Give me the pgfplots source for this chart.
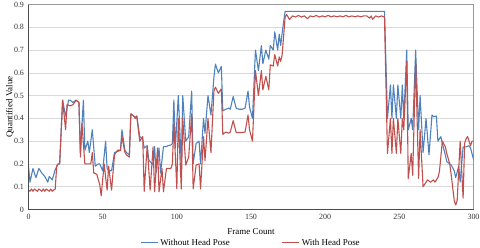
\documentclass[border=0pt]{standalone}
\usepackage{pgfplots}
\pgfplotsset{compat=1.18}
\usepackage{fontspec}
\setmainfont{Liberation Serif}
\definecolor{cblue}{RGB}{79,129,189}
\definecolor{cred}{RGB}{192,80,77}
\pgfplotstableread{
x y
0 0.19
1 0.12
3 0.18
5 0.14
7 0.18
9 0.16
11 0.145
13 0.12
14 0.145
16 0.13
18 0.175
20 0.2
21 0.2
23 0.48
25 0.41
27 0.48
28 0.48
30 0.47
31 0.475
32 0.48
34 0.47
35 0.25
37 0.48
38 0.26
40 0.30
41 0.25
43 0.35
45 0.19
47 0.2
48 0.2
50 0.17
52 0.30
53 0.18
54 0.17
56 0.17
58 0.25
60 0.255
62 0.26
63 0.35
65 0.26
66 0.25
68 0.24
69 0.42
71 0.41
72 0.405
73 0.41
75 0.32
77 0.31
78 0.27
80 0.28
81 0.22
82 0.21
84 0.195
85 0.276
86 0.16
88 0.27
89 0.16
91 0.276
93 0.276
94 0.28
96 0.283
97 0.29
98 0.48
99 0.27
101 0.50
103 0.20
104 0.50
106 0.30
108 0.32
110 0.52
111 0.20
113 0.29
115 0.30
116 0.20
118 0.40
119 0.335
121 0.50
123 0.415
125 0.58
126 0.638
128 0.60
130 0.628
131 0.433
133 0.44
135 0.445
136 0.44
138 0.496
140 0.445
142 0.44
144 0.44
146 0.445
148 0.52
149 0.45
151 0.40
153 0.70
155 0.61
157 0.72
158 0.64
160 0.70
162 0.66
163 0.72
165 0.70
166 0.78
168 0.70
169 0.77
170 0.72
171 0.775
173 0.87
240 0.87
242 0.40
244 0.547
245 0.40
246 0.547
248 0.40
249 0.547
251 0.40
252 0.547
253 0.40
255 0.70
256 0.35
258 0.40
259 0.35
261 0.70
263 0.35
264 0.50
266 0.25
268 0.40
270 0.24
272 0.415
273 0.408
275 0.41
276 0.30
278 0.32
279 0.29
281 0.24
282 0.21
284 0.20
285 0.195
287 0.17
288 0.14
290 0.19
291 0.12
293 0.275
295 0.275
297 0.28
298 0.27
300 0.22
}\blueA
\pgfplotstableread{
x y
0 0.085
1 0.08
2 0.09
3 0.08
4 0.09
5 0.085
6 0.08
7 0.09
8 0.085
9 0.08
10 0.09
11 0.08
12 0.09
13 0.085
14 0.08
15 0.09
16 0.08
17 0.085
18 0.09
19 0.19
20 0.2
21 0.2
23 0.48
25 0.35
26 0.46
28 0.455
30 0.46
32 0.48
33 0.475
34 0.47
35 0.23
36 0.38
38 0.2
40 0.2
42 0.2
43 0.25
44 0.16
46 0.155
48 0.11
49 0.06
51 0.2
53 0.085
54 0.19
56 0.085
58 0.24
60 0.26
62 0.26
63 0.32
65 0.25
66 0.24
68 0.23
69 0.42
71 0.41
72 0.40
73 0.41
75 0.30
77 0.32
78 0.08
80 0.28
82 0.085
84 0.275
85 0.078
87 0.27
88 0.078
90 0.18
91 0.078
93 0.18
94 0.18
96 0.18
97 0.20
98 0.38
100 0.09
101 0.40
103 0.09
104 0.40
106 0.195
108 0.23
110 0.42
111 0.09
113 0.195
115 0.20
116 0.09
118 0.32
119 0.215
121 0.40
123 0.25
125 0.52
126 0.537
128 0.51
130 0.53
131 0.33
133 0.34
135 0.335
136 0.34
138 0.39
140 0.338
142 0.338
144 0.338
146 0.34
148 0.415
149 0.35
151 0.30
153 0.61
155 0.50
157 0.61
158 0.525
160 0.585
162 0.525
163 0.635
165 0.63
166 0.68
168 0.63
169 0.67
170 0.65
171 0.68
173 0.845
174 0.856
176 0.834
178 0.85
180 0.845
182 0.852
184 0.845
186 0.85
188 0.838
190 0.85
192 0.846
194 0.852
196 0.845
198 0.85
200 0.846
202 0.852
204 0.846
206 0.85
208 0.846
210 0.85
212 0.846
214 0.852
216 0.846
218 0.85
220 0.846
222 0.85
224 0.846
226 0.85
228 0.85
230 0.84
231 0.85
232 0.835
234 0.85
236 0.845
238 0.85
240 0.845
242 0.246
244 0.40
245 0.246
246 0.40
248 0.246
249 0.40
251 0.246
252 0.40
253 0.35
255 0.65
256 0.136
258 0.246
259 0.15
261 0.65
263 0.136
264 0.35
266 0.10
268 0.12
269 0.13
271 0.12
273 0.13
274 0.12
276 0.14
277 0.165
279 0.30
281 0.275
282 0.246
284 0.20
285 0.15
287 0.04
288 0.02
289 0.04
291 0.30
293 0.05
294 0.29
295 0.31
296 0.32
298 0.28
299 0.30
300 0.30
}\redA
\begin{document}
\begin{tikzpicture}
\path[use as bounding box] (-28.5bp,-38.5bp) rectangle (451.5bp,209.5bp);
\begin{axis}[
  scale only axis,
  width=445bp, height=205bp,
  xmin=0, xmax=300, ymin=0, ymax=0.9,
  xtick={0,50,...,300},
  ytick={0,0.1,...,0.9},
  major tick length=0pt,
  ymajorgrids,
  grid style={draw=black!15, line width=0.6bp},
  axis line style={draw=black!40, line width=0.8bp},
  /pgf/number format/assume math mode=true,
  yticklabel={\pgfmathprintnumber[fixed,precision=1]{\tick}},
  ticklabel style={font=\fontsize{8}{9}\selectfont, text=black!80},
  xticklabel style={yshift=-1bp},
  yticklabel style={xshift=-1bp},
  label style={font=\fontsize{9}{10}\selectfont},
  xlabel={Frame Count},
  ylabel={Quantified Value},
  xlabel style={at={(axis description cs:0.5,-0.11)}, anchor=center},
  ylabel style={at={(axis description cs:-0.0416,0.5)}, anchor=center},
  legend columns=2,
  legend style={at={(axis description cs:0.5,-0.163)}, anchor=center, draw=none,
    font=\fontsize{9}{10}\selectfont, inner sep=0pt,
    /tikz/every even column/.append style={column sep=50bp}},
  legend image code/.code={\draw[#1] (0bp,0bp) -- (17bp,0bp);},
  extra description/.code={
    \draw[black!70, line width=0.8bp] (rel axis cs:0,1) -- (rel axis cs:0,0) -- (rel axis cs:1,0);
  },
]
\addplot[cblue, line width=1.1bp, line join=round] table[x=x,y=y] {\blueA};
\addlegendentry{Without Head Pose}
\addplot[cred, line width=1.1bp, line join=round] table[x=x,y=y] {\redA};
\addlegendentry{With Head Pose}
\end{axis}
\end{tikzpicture}
\end{document}
